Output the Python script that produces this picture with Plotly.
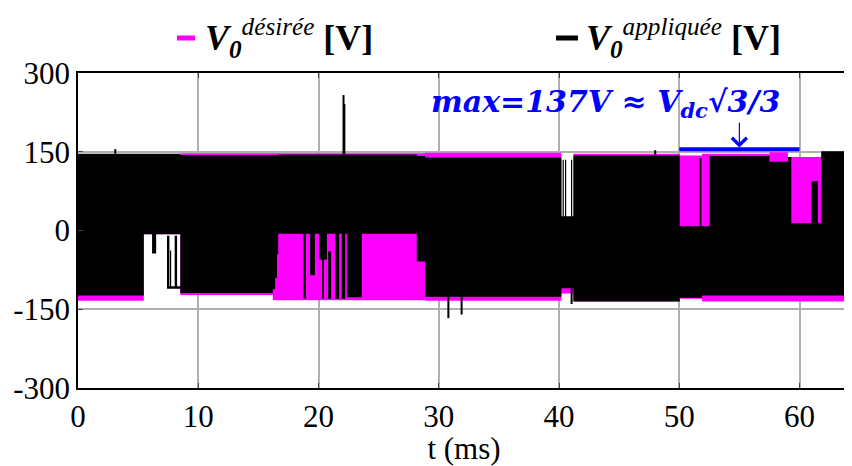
import plotly.graph_objects as go

# ---------------- data ----------------
# Desired voltage V0 (magenta): envelope blocks of the fast-switching signal, t in ms, V in volts
des_t0 = [0.00, 5.47, 8.51, 16.20, 28.86, 40.20, 41.20, 50.04, 51.90, 57.50, 59.04, 61.81]
des_t1 = [5.47, 8.51, 16.20, 28.86, 40.20, 41.20, 50.04, 51.90, 57.50, 59.04, 61.81, 64.20]
des_hi = [145, 145, 147, 147, 148, 20, 146, 143, 146, 149, 140, 148]
des_lo = [-134, -7, -123, -133, -134, -120, -135, -130, -135, -135, -135, -135]

# Applied voltage V0 (black): envelope blocks
app_t0 = [0.00, 5.47, 6.16, 7.40, 7.65, 8.04, 7.40, 8.51, 16.20, 16.40, 16.55, 16.65,
          18.75, 19.30, 20.06, 20.30, 20.80, 21.39, 21.94, 22.36, 28.17, 28.86,
          40.20, 40.30, 40.50, 41.00, 41.20, 50.04, 51.90, 51.70, 52.53, 57.50,
          59.04, 59.04, 60.98, 61.81]
app_t1 = [5.47, 8.51, 6.50, 7.60, 7.75, 8.24, 8.51, 16.20, 16.40, 16.55, 16.65, 28.17,
          18.95, 19.70, 20.70, 20.45, 21.05, 21.72, 22.22, 23.60, 28.86, 40.20,
          41.20, 40.40, 40.60, 41.10, 50.04, 51.90, 52.53, 51.85, 57.50, 59.04,
          59.32, 61.81, 61.53, 64.20]
app_hi = [146, 146, -7, -10, -38, -10, -106, 144, 144, 144, 144, 145,
          -6, -6, -6, -55, -40, -6, -6, -6, 142, 139,
          27, 135, 135, 135, 143, 8, 8, 138, 142, 131,
          140, 14, 94, 151]
app_lo = [-124, -7, -44, -108, -108, -108, -111, -119, -112, -90, -45, -6,
          -130, -85, -55, -130, -130, -130, -130, -127, -59, -126,
          -110, 27, 27, 27, -135, -128, -124, 8, -124, -124,
          14, -124, 14, -124]

# Isolated spikes of the applied voltage
spike_t = [3.10, 22.08, 22.15, 30.80, 31.90, 41.05, 48.00]
spike_top = [155, 258, 241, 137, 137, -110, 153]
spike_bot = [146, 145, 145, -167, -160, -140, 143]

x_ticks = [0, 10, 20, 30, 40, 50, 60]
y_ticks = [-300, -150, 0, 150, 300]
y_tick_labels = ["-300", "-150", "0", "150", "300"]

legend_names = ["<b><i>V<sub>0</sub></i></b><i><sup>désirée</sup></i> <b>[V]</b>",
                "<b><i>V<sub>0</sub></i></b><i><sup>appliquée</sup></i> <b>[V]</b>"]

max_window = [50, 60]    # ms, marked interval
max_level = 155          # V, height of the marker line
arrow_t = 55
max_text = "<b><i>max=137V ≈ V<sub>dc</sub>√3/3</i></b>"

MAG = "#ff00ff"
BLK = "#000000"
BLUE = "#0000ff"
FONT = "Liberation Serif"


def rect_path(t0, t1, hi, lo):
    xs, ys = [], []
    for a, b, h, l in zip(t0, t1, hi, lo):
        xs += [a, b, b, a, a, None]
        ys += [h, h, l, l, h, None]
    return xs, ys


fig = go.Figure()

xd, yd = rect_path(des_t0, des_t1, des_hi, des_lo)
fig.add_trace(go.Scatter(x=xd, y=yd, mode="lines", fill="toself", fillcolor=MAG,
                         line=dict(width=0, color=MAG), name=legend_names[0],
                         showlegend=False, hoverinfo="skip"))

xa, ya = rect_path(app_t0, app_t1, app_hi, app_lo)
fig.add_trace(go.Scatter(x=xa, y=ya, mode="lines", fill="toself", fillcolor=BLK,
                         line=dict(width=0, color=BLK), name=legend_names[1],
                         showlegend=False, hoverinfo="skip"))

sx, sy = [], []
for t, a, b in zip(spike_t, spike_top, spike_bot):
    sx += [t, t, None]
    sy += [a, b, None]
fig.add_trace(go.Scatter(x=sx, y=sy, mode="lines", line=dict(width=2, color=BLK),
                         showlegend=False, hoverinfo="skip"))

# legend drawn by hand (short thick keys as in the reference); page-pixel helper
W, H, L, T = 772.0, 315.0, 78.0, 73.0


def px2paper(px, py):
    return (px - L) / W, (T + H - py) / H


for (k0, k1, tx), col, name in zip([(177, 195, 203), (556, 578, 584)], [MAG, BLK], legend_names):
    a, yy = px2paper(k0, 38)
    b, _ = px2paper(k1, 38)
    c, _ = px2paper(tx, 38)
    fig.add_shape(type="line", xref="paper", yref="paper", x0=a, x1=b, y0=yy, y1=yy,
                  line=dict(color=col, width=5))
    fig.add_annotation(xref="paper", yref="paper", x=c, y=yy, xanchor="left", yanchor="middle",
                       showarrow=False, text=name, font=dict(family=FONT, size=36, color="black"))

# marker of the max value
fig.add_shape(type="line", x0=max_window[0], x1=max_window[1], y0=max_level, y1=max_level,
              xref="x", yref="y", line=dict(color=BLUE, width=4))
fig.add_annotation(x=arrow_t, y=max_level + 3, ax=arrow_t, ay=max_level + 53,
                   axref="x", ayref="y", xref="x", yref="y", text="", showarrow=True,
                   arrowhead=4, arrowsize=2.4, arrowwidth=1.2, arrowcolor=BLUE)
fig.add_annotation(x=43.85, y=241, xref="x", yref="y", showarrow=False,
                   text=max_text, font=dict(family="DejaVu Serif", size=30, color=BLUE))

# the page adds an 8 px body margin, so the figure is sized/margined to compensate
fig.update_layout(
    width=844, height=458,
    margin=dict(l=70, r=2, t=65, b=78, autoexpand=False),
    paper_bgcolor="white", plot_bgcolor="white",
    font=dict(family=FONT, size=31, color="black"),
    showlegend=False,
    xaxis=dict(range=[0, 64.2], tickvals=x_ticks, ticks="inside", ticklen=5,
               showline=True, linecolor="black", linewidth=1.5, mirror="ticks",
               showgrid=True, gridcolor="#b0b0b0", gridwidth=1.5, zeroline=False,
               title=dict(text="t (ms)", standoff=4, font=dict(size=31)),
               tickfont=dict(size=31)),
    yaxis=dict(range=[-300, 300], tickvals=y_ticks, ticktext=y_tick_labels,
               ticks="inside", ticklen=5,
               showline=True, linecolor="black", linewidth=1.5, mirror="ticks",
               showgrid=True, gridcolor="#b0b0b0", gridwidth=1.5, zeroline=False,
               tickfont=dict(size=31)),
)

fig.write_html("out.html")
